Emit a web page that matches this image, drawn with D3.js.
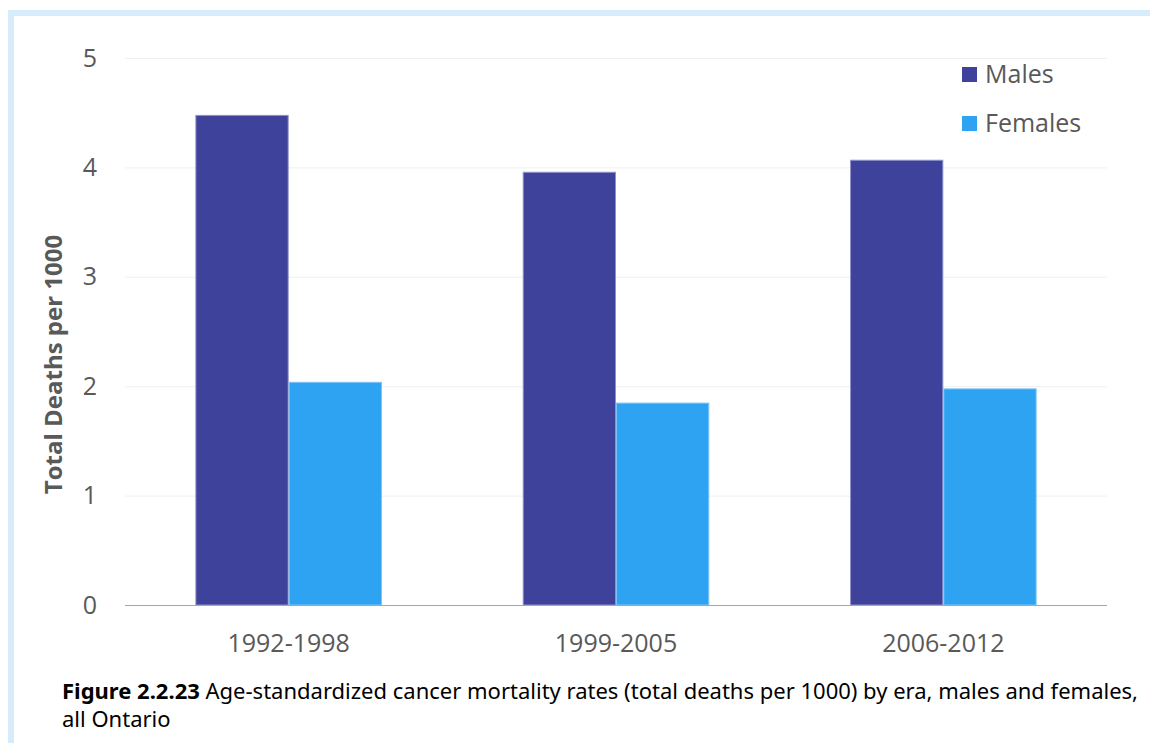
<!DOCTYPE html>
<html><head><meta charset="utf-8">
<script src="https://cdn.jsdelivr.net/npm/d3@7"></script>
<style>
html,body{margin:0;padding:0;background:#fff;}
svg{display:block;font-family:"Open Sans","Noto Sans",sans-serif;}
</style></head>
<body>
<svg id="c" width="1150" height="743"></svg>
<script>
const categories = ["1992-1998", "1999-2005", "2006-2012"];
const seriesNames = ["Males", "Females"];
const males = [4.48, 3.96, 4.07];
const females = [2.04, 1.85, 1.98];
const yTicks = [0, 1, 2, 3, 4, 5];
const colors = ["#3f429a", "#2ea3f2"];
const strokeColors = ["#8f92c9", "#7cc4f6"];
const captionBold = "Figure 2.2.23";
const captionRest = " Age-standardized cancer mortality rates (total deaths per 1000) by era, males and females,";
const captionLine2 = "all Ontario";
const yTitle = "Total Deaths per 1000";

(function () {
const svg = d3.select("#c");
const font = "'Open Sans','Noto Sans',sans-serif";
// frame
svg.append("rect").attr("x", 8).attr("y", 10).attr("width", 1142).attr("height", 6).attr("fill", "#d7ecfb");
svg.append("rect").attr("x", 8).attr("y", 10).attr("width", 6).attr("height", 733).attr("fill", "#d7ecfb");

const pLeft = 125, pRight = 1107, pTop = 58, pBottom = 605;
const x = d3.scaleBand().domain(categories).range([pLeft, pRight]).paddingInner(0.43).paddingOuter(0.215);
const xs = d3.scaleBand().domain(seriesNames).range([0, x.bandwidth()]);
const y = d3.scaleLinear().domain([0, 5]).range([pBottom, pTop]);

// gridlines
svg.append("g").selectAll("line").data(yTicks.filter(d => d > 0)).join("line")
  .attr("x1", pLeft).attr("x2", pRight)
  .attr("y1", d => y(d) + 0.5).attr("y2", d => y(d) + 0.5)
  .attr("stroke", "#efefef").attr("stroke-width", 1);

// y axis labels
const yAxis = d3.axisLeft(y).tickValues(yTicks).tickSize(0).tickPadding(0).tickFormat(d3.format("d"));
const yg = svg.append("g").attr("transform", `translate(97,0)`).call(yAxis);
yg.select(".domain").remove();
yg.selectAll("text").attr("fill", "#595959").attr("font-size", 25).attr("font-family", font);

// bars
const data = categories.map((c, i) => ({c, vals: [males[i], females[i]]}));
const g = svg.append("g");
data.forEach(d => {
  d.vals.forEach((v, j) => {
    g.append("rect")
      .attr("x", x(d.c) + xs(seriesNames[j]) + 0.5)
      .attr("y", y(v) + 0.5)
      .attr("width", xs.bandwidth() - 1)
      .attr("height", y(0) - y(v) - 0.5)
      .attr("fill", colors[j])
      .attr("stroke", strokeColors[j]).attr("stroke-width", 1);
  });
});

// x axis
const xAxis = d3.axisBottom(x).tickSize(0).tickPadding(0);
const xg = svg.append("g").attr("transform", `translate(0,${pBottom})`).call(xAxis);
xg.select(".domain").remove();
xg.selectAll("text").attr("fill", "#595959").attr("font-size", 25).attr("dy", null).attr("y", 47)
  .attr("font-family", font);
svg.append("line").attr("x1", pLeft).attr("x2", pRight).attr("y1", pBottom + 0.5).attr("y2", pBottom + 0.5)
  .attr("stroke", "#a6a6a6").attr("stroke-width", 1.2);

// y title
svg.append("text").attr("transform", `translate(62,${(pTop + pBottom) / 2 + 33}) rotate(-90)`)
  .attr("text-anchor", "middle").attr("font-size", 24).attr("font-weight", "bold").attr("fill", "#595959")
  .text(yTitle);

// legend
const lg = svg.append("g");
seriesNames.forEach((s, i) => {
  const yy = 67 + i * 49;
  lg.append("rect").attr("x", 962).attr("y", yy).attr("width", 15).attr("height", 15).attr("fill", colors[i]);
  lg.append("text").attr("x", 985).attr("y", yy + 16).attr("font-size", 25).attr("fill", "#595959").text(s);
});

// caption
const cap = svg.append("text").attr("x", 62).attr("y", 699).attr("font-size", 22).attr("fill", "#000")
  .attr("font-family", "'Noto Sans','Open Sans',sans-serif");
cap.append("tspan").attr("font-weight", "bold").text(captionBold);
cap.append("tspan").text(captionRest);
const w = cap.node().getComputedTextLength();
if (w > 1085) cap.attr("textLength", 1085).attr("lengthAdjust", "spacingAndGlyphs");
svg.append("text").attr("x", 62).attr("y", 727).attr("font-size", 22).attr("fill", "#000")
  .attr("font-family", "'Noto Sans','Open Sans',sans-serif").text(captionLine2);
})();
</script>
</body></html>
